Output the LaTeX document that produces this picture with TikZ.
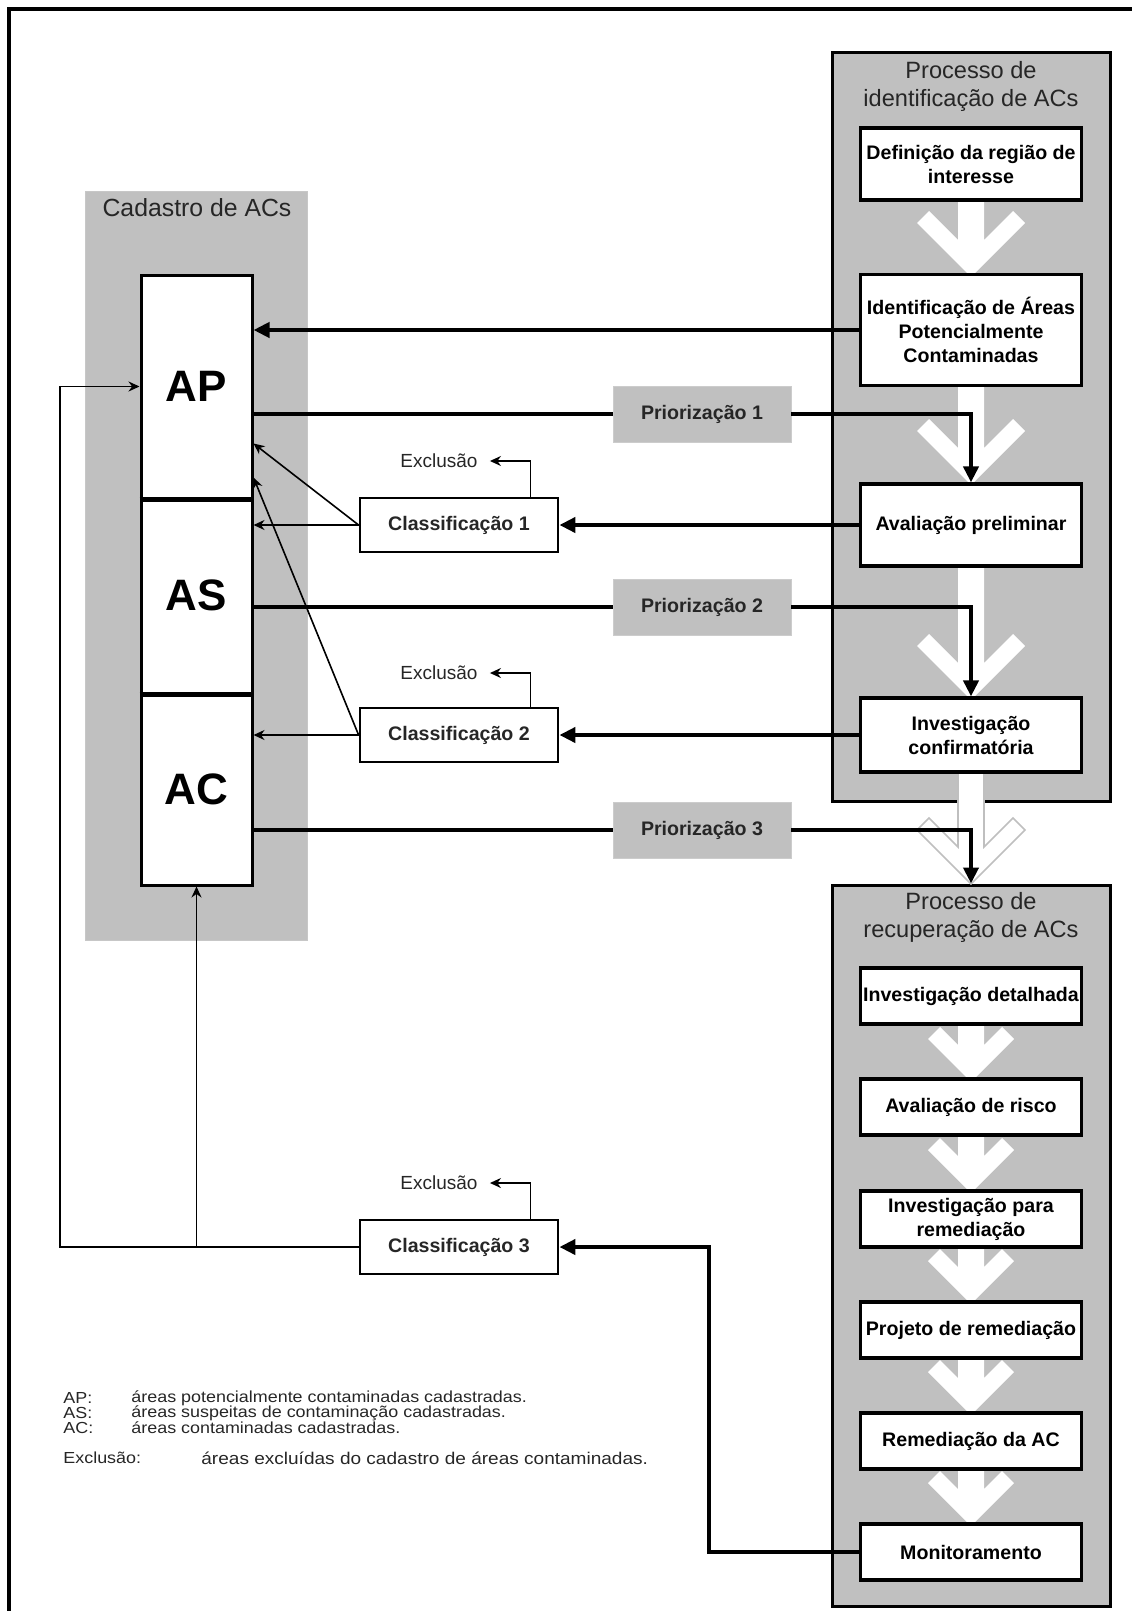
\documentclass[tikz,border=0pt]{standalone}
\usepackage{fontspec}
\setmainfont{Liberation Sans}
\newfontfamily\keyfont[FakeStretch=1.12]{Liberation Sans}
\usetikzlibrary{arrows.meta,calc}

\definecolor{boxgray}{RGB}{192,192,192}

\newcommand{\flowchevron}[5][]{%
        \path[#1] (#2-13,#3) -- (#2-13,#4-37) -- (#2-#5+12,#4-#5-12) -- (#2-#5,#4-#5) -- (#2,#4)
        -- (#2+#5,#4-#5) -- (#2+#5-12,#4-#5-12) -- (#2+13,#4-37) -- (#2+13,#3) -- cycle;}

\begin{document}
\begin{tikzpicture}
        [x=0.5pt,y=-0.5pt,
        every node/.style={font=\fontsize{9.8}{12}\selectfont\bfseries,inner sep=1pt},
        stepbox/.style={draw,fill=white,line width=1.6pt,minimum width=110.5pt,align=center},
        procbox/.style={draw,fill=boxgray,line width=1.5pt,minimum width=139pt},
        proctitle/.style={font=\fontsize{11.8}{14}\selectfont,align=center,text=black!85},
        areabox/.style={draw,fill=white,line width=1.5pt,minimum width=55.5pt,font=\fontsize{22}{26}\selectfont\bfseries},
        prio/.style={fill=boxgray,draw=black!20,minimum width=89pt,minimum height=28pt,text=black!85},
        classbox/.style={draw,fill=white,line width=1.4pt,minimum width=99pt,minimum height=27pt,text=black!85},
        excl/.style={font=\fontsize{9.5}{11}\selectfont,inner sep=6pt,text=black!85},
        keytext/.style={anchor=west,inner sep=0pt,font=\keyfont\fontsize{8}{9}\selectfont,text=black!85},
        flow/.style={line width=2.2pt,-{Triangle[length=8pt,width=7.5pt]}},
        flowline/.style={line width=2.2pt},
        feedback/.style={line width=0.8pt,-{Stealth[length=5.5pt,width=5pt]}},
        bigarrow/.style={fill=white},
        ghostarrow/.style={fill=white,draw=black!25,line width=0.8pt}]

        \useasboundingbox (0,0) rectangle (1132,1611);
        \draw[line width=2pt] (9,1611) -- (9,9) -- (1132,9);

        \node[fill=boxgray,draw=black!22,minimum width=111pt,minimum height=374.5pt] (cadastro) at (196,565.5) {};
        \node[font=\fontsize{12.4}{14}\selectfont,text=black!85] (cadtitle) at (197,208) {Cadastro de ACs};

        \node[procbox,minimum height=374pt] (identproc) at (971,427) {};
        \node[proctitle] (identtitle) at (971,86) {Processo de\\identificação de ACs};
        \node[procbox,minimum height=360.5pt] (recproc) at (971,1245.5) {};
        \node[proctitle] (rectitle) at (971,917) {Processo de\\recuperação de ACs};

        \flowchevron[bigarrow]{971}{198}{277}{54}
        \flowchevron[bigarrow]{971}{384}{485}{54}
        \flowchevron[bigarrow]{971}{563}{700}{54}
        \flowchevron[ghostarrow]{971}{772}{884}{54}
        \flowchevron[bigarrow]{971}{1022}{1082}{43}
        \flowchevron[bigarrow]{971}{1133}{1193}{43}
        \flowchevron[bigarrow]{971}{1245}{1304}{43}
        \flowchevron[bigarrow]{971}{1356}{1415}{43}
        \flowchevron[bigarrow]{971}{1467}{1526}{43}

        \node[stepbox,minimum height=36pt] (regiao) at (971,164) {Definição da região de\\interesse};
        \node[stepbox,minimum height=55.5pt] (identif) at (971,330) {Identificação de Áreas\\Potencialmente\\Contaminadas};
        \node[stepbox,minimum height=41pt] (prelim) at (971,525) {Avaliação preliminar};
        \node[stepbox,minimum height=37pt] (confirm) at (971,735) {Investigação\\confirmatória};
        \node[stepbox,minimum height=28pt] (detalhe) at (971,996) {Investigação detalhada};
        \node[stepbox,minimum height=28pt] (risco) at (971,1107) {Avaliação de risco};
        \node[stepbox,minimum height=28pt] (invrem) at (971,1219) {Investigação para\\remediação};
        \node[stepbox,minimum height=28pt] (projeto) at (971,1330) {Projeto de remediação};
        \node[stepbox,minimum height=28pt] (remed) at (971,1441) {Remediação da AC};
        \node[stepbox,minimum height=28pt] (monit) at (971,1552) {Monitoramento};

        \node[areabox,minimum height=111.5pt] (AP) at (196.5,386.5) {AP};
        \node[areabox,minimum height=97.5pt] (AS) at (196.5,595.5) {AS};
        \node[areabox,minimum height=96pt] (AC) at (196.5,789) {AC};
        \draw[line width=2.4pt] (AP.south west) -- (AP.south east);
        \draw[line width=2.4pt] (AS.south west) -- (AS.south east);

        \node[prio] (prio1) at (702,414) {Priorização 1};
        \node[prio] (prio2) at (702,607) {Priorização 2};
        \node[prio] (prio3) at (702,830) {Priorização 3};

        \node[classbox] (class1) at (459,525) {Classificação 1};
        \node[classbox] (class2) at (459,735) {Classificação 2};
        \node[classbox] (class3) at (459,1247) {Classificação 3};
        \node[excl] (excl1) at (439,461) {Exclusão};
        \node[excl] (excl2) at (439,673) {Exclusão};
        \node[excl] (excl3) at (439,1183) {Exclusão};

        \coordinate (bend) at (709,1552);
        \coordinate (loop) at (60,1247);

        \draw[flow] (identif) -- (AP.east |- identif);
        \draw[flowline] (AP.east |- prio1) -- (prio1);
        \draw[flow] (prio1) -| (prelim.north);
        \draw[flow] (prelim) -- (class1);
        \draw[feedback] (class1.west) -- (class1.west -| AS.east);
        \draw[feedback] (class1.west) -- ($(AP.east)+(0,57)$);
        \draw[feedback] ($(class1.north east)+(-29,0)$) |- (excl1.east);

        \draw[flowline] (AS.east |- prio2) -- (prio2);
        \draw[flow] (prio2) -| (confirm.north);
        \draw[flow] (confirm) -- (class2);
        \draw[feedback] (class2.west) -- (class2.west -| AC.east);
        \draw[feedback] (class2.west) -- ($(AP.east)+(0,91)$);
        \draw[feedback] ($(class2.north east)+(-29,0)$) |- (excl2.east);

        \draw[flowline] (AC.east |- prio3) -- (prio3);
        \draw[flow] (prio3) -| (recproc.north);
        \draw[flow] (monit) -- (bend) |- (class3);
        \draw[feedback] (class3) -- (loop) |- (AP.west);
        \draw[feedback] (class3.west -| AC.south) -- (AC.south);
        \draw[feedback] ($(class3.north east)+(-29,0)$) |- (excl3.east);

        \node[keytext] (keyAP) at (63,1398) {AP:};
        \node[keytext] (defAP) at (131,1398) {áreas potencialmente contaminadas cadastradas.};
        \node[keytext] (keyAS) at (63,1413) {AS:};
        \node[keytext] (defAS) at (131,1413) {áreas suspeitas de contaminação cadastradas.};
        \node[keytext] (keyAC) at (63,1428) {AC:};
        \node[keytext] (defAC) at (131,1428) {áreas contaminadas cadastradas.};
        \node[keytext] (keyEx) at (63,1458) {Exclusão:};
        \node[keytext,font=\keyfont\fontsize{8.5}{9}\selectfont] (defEx) at (201,1458) {áreas excluídas do cadastro de áreas contaminadas.};
      \end{tikzpicture}
\end{document}
